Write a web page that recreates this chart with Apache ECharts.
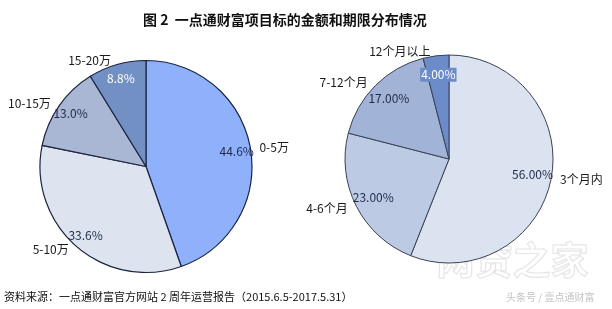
<!DOCTYPE html>
<html><head><meta charset="utf-8">
<script src="https://cdn.jsdelivr.net/npm/echarts@6/dist/echarts.min.js"></script>
<style>html,body{margin:0;padding:0;background:#fff;}#c{width:612px;height:309px;}</style>
</head><body><div id="c"></div>
<script>
const amountNames = ['0-5万', '5-10万', '10-15万', '15-20万'];
const amountValues = [44.6, 33.6, 13.0, 8.8];
const amountLabels = ['44.6%', '33.6%', '13.0%', '8.8%'];
const termNames = ['3个月内', '4-6个月', '7-12个月', '12个月以上'];
const termValues = [56, 23, 17, 4];
const termLabels = ['56.00%', '23.00%', '17.00%', '4.00%'];
const titleText = '图 2  一点通财富项目标的金额和期限分布情况';
const sourceText = '资料来源：一点通财富官方网站 2 周年运营报告（2015.6.5-2017.5.31）';

const amountColors = ['#8FB0FA', '#DDE4F0', '#A9B6D4', '#7390C4'];
const termColors = ['#DCE3F0', '#BDCAE4', '#A2B3D8', '#6B8CC8'];
const FONT = '"Noto Sans CJK SC", "Noto Sans", sans-serif';

function mainSeries(names, values, colors, center, r, border, bw) {
  return {
    type: 'pie', center: center, radius: [0, r], startAngle: 90, clockwise: true,
    silent: true, animation: false, avoidLabelOverlap: false,
    itemStyle: { borderColor: border, borderWidth: bw },
    label: { show: true, position: 'outside', fontFamily: FONT, fontSize: 12, color: '#1a1a1a',
      overflow: 'none', width: 200, alignTo: 'none' },
    labelLine: { show: false, length: 4, length2: 0 },
    data: names.map((n, i) => ({ name: n, value: values[i], itemStyle: { color: colors[i] } }))
  };
}
function pctSeries(names, values, labels, center, r0, r, styles) {
  return {
    type: 'pie', center: center, radius: [r0, r], startAngle: 90, clockwise: true,
    silent: true, animation: false,
    itemStyle: { color: 'rgba(0,0,0,0)', borderWidth: 0 },
    label: { show: true, position: 'inside', fontFamily: FONT, fontSize: 12, color: '#1F2A48',
      formatter: p => labels[p.dataIndex] },
    labelLine: { show: false },
    data: names.map((n, i) => ({ name: n, value: values[i], label: styles[i] || {} }))
  };
}

const chart = echarts.init(document.getElementById('c'), null, { renderer: 'canvas' });
chart.setOption({
  backgroundColor: '#ffffff',
  title: {
    text: titleText, left: 138, top: 8,
    textStyle: { fontFamily: FONT, fontSize: 14, fontWeight: 'bold', color: '#111' }
  },
  graphic: [
    { type: 'text', left: 4, top: 291, style: { text: sourceText, font: '11px ' + FONT, fill: '#111' } },
    { type: 'text', left: 436, top: 240, style: { text: '网贷之家', font: 'bold 38px ' + FONT, fill: 'rgba(0,0,0,0)', stroke: 'rgba(200,200,200,0.45)', lineWidth: 1.2 } },
    { type: 'text', left: 506, top: 292, style: { text: '头条号 / 壹点通财富', font: '10px ' + FONT, fill: '#c4c4c4' } }
  ],
  series: [
    mainSeries(amountNames, amountValues, amountColors, [146, 166.5], 106, '#1C2540', 1.2),
    pctSeries(amountNames, amountValues, amountLabels, [146, 166.5], 72, 106,
      [{}, {}, {}, { color: '#ffffff' }]),
    mainSeries(termNames, termValues, termColors, [449, 159], 104, '#3A4152', 1),
    pctSeries(termNames, termValues, termLabels, [449, 159], 60, 104,
      [{}, {}, {}, { color: '#ffffff', backgroundColor: '#6B8CC8', padding: [1, 1] }])
  ]
});
</script>
</body></html>
